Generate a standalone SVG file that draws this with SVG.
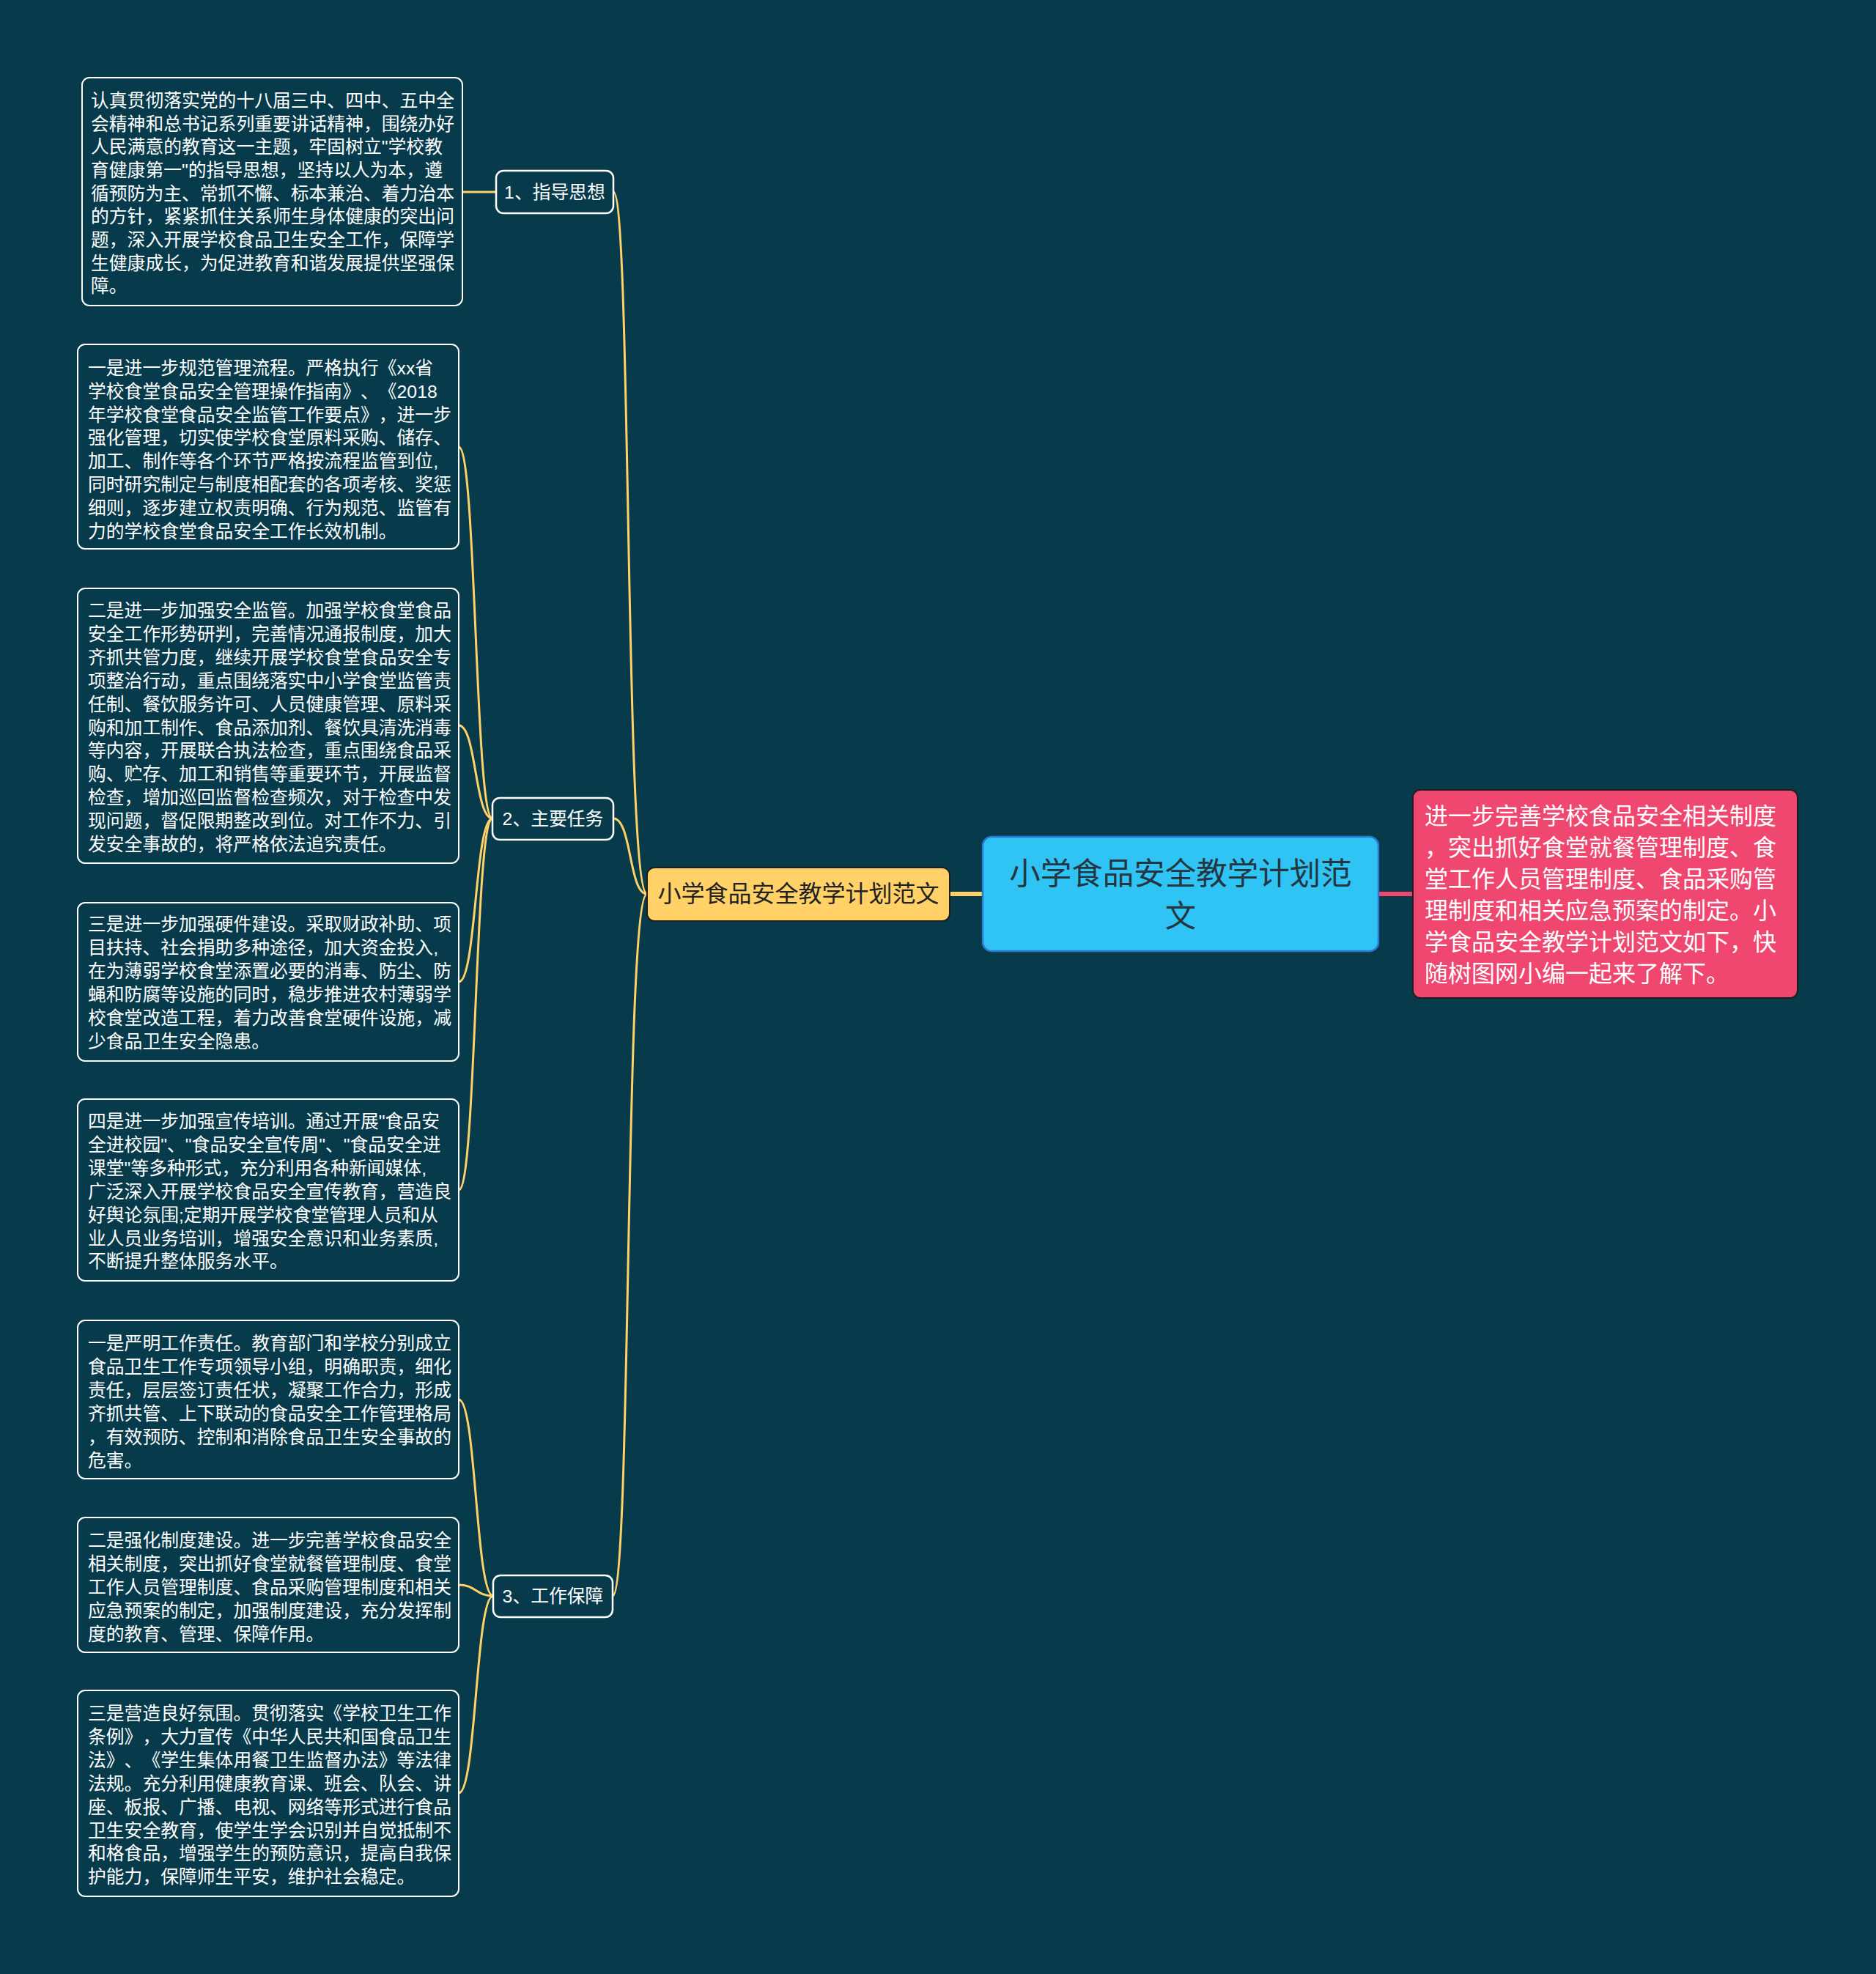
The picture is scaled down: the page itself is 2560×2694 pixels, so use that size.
<svg xmlns="http://www.w3.org/2000/svg" width="2560" height="2694" viewBox="0 0 2560 2694">
<style>
text{text-spacing-trim:space-all}
.bg{fill:#073B4C}
.leaf{fill:#073B4C;stroke:#FFFFFF;stroke-width:2}
.lt{font-family:'Liberation Sans','Noto Sans CJK SC',sans-serif;font-size:24.8px;fill:#FFFFFF}
.br{fill:#073B4C;stroke:#FFFFFF;stroke-width:2.5}
.bt{font-family:'Liberation Sans','Noto Sans CJK SC',sans-serif;font-size:24.8px;fill:#FFFFFF;text-anchor:middle}
.con{fill:none;stroke:#FFD166;stroke-width:3}
</style>
<rect class="bg" x="0" y="0" width="2560" height="2694"/>
<g id="connectors">
<path class="con" d="M631,262 L677,262"/>
<path class="con" d="M837,262 C862,262 852,1220 883,1220"/>
<path class="con" d="M837,1117 C862,1117 858,1220 883,1220"/>
<path class="con" d="M836,2178 C862,2178 852,1220 883,1220"/>
<path class="con" d="M672,1117 C648,1117 650,610 626,610"/>
<path class="con" d="M672,1117 C648,1117 650,990 626,990"/>
<path class="con" d="M672,1117 C648,1117 650,1340 626,1340"/>
<path class="con" d="M672,1117 C648,1117 650,1624 626,1624"/>
<path class="con" d="M673,2178 C649,2178 650,1910 626,1910"/>
<path class="con" d="M673,2178 C649,2178 650,2163 626,2163"/>
<path class="con" d="M673,2178 C649,2178 650,2447 626,2447"/>
<path d="M1296,1220 L1341,1220" fill="none" stroke="#FFD166" stroke-width="6"/>
<path d="M1881,1220 L1928,1220" fill="none" stroke="#EF476F" stroke-width="6"/>
</g>
<g id="root">
<rect x="1341" y="1142" width="540" height="156" rx="12" fill="#30C4F5" stroke="#2A78D2" stroke-width="2.5"/>
<text font-family="'Liberation Sans','Noto Sans CJK SC',sans-serif" font-size="42.5" fill="#243640" text-anchor="middle"><tspan x="1611" y="1207">小学食品安全教学计划范</tspan><tspan x="1611" y="1265">文</tspan></text>
</g>
<g id="summary">
<rect x="1928" y="1078" width="525" height="284" rx="10" fill="#EF476F" stroke="#1E1E1E" stroke-width="2"/>
<text font-family="'Liberation Sans','Noto Sans CJK SC',sans-serif" font-size="32" fill="#FFFFFF"><tspan x="1944" y="1125">进一步完善学校食品安全相关制度</tspan><tspan x="1944" y="1168">，突出抓好食堂就餐管理制度、食</tspan><tspan x="1944" y="1211">堂工作人员管理制度、食品采购管</tspan><tspan x="1944" y="1254">理制度和相关应急预案的制定。小</tspan><tspan x="1944" y="1297">学食品安全教学计划范文如下，快</tspan><tspan x="1944" y="1340">随树图网小编一起来了解下。</tspan></text>
</g>
<g id="main">
<rect x="883" y="1184" width="413" height="73" rx="10" fill="#FFD166" stroke="#1E1E1E" stroke-width="2"/>
<text x="1089.5" y="1231" font-family="'Liberation Sans','Noto Sans CJK SC',sans-serif" font-size="32" fill="#222222" text-anchor="middle">小学食品安全教学计划范文</text>
</g>
<g id="branch1">
<rect class="br" x="677" y="233" width="160" height="58" rx="10"/>
<text class="bt" x="757" y="271">1、指导思想</text>
</g>
<g id="branch2">
<rect class="br" x="672" y="1089" width="165" height="57" rx="10"/>
<text class="bt" x="754.5" y="1126">2、主要任务</text>
</g>
<g id="branch3">
<rect class="br" x="673" y="2150" width="163" height="57" rx="10"/>
<text class="bt" x="754.5" y="2187">3、工作保障</text>
</g>
<g id="leaf1">
<rect class="leaf" x="112" y="106" width="519" height="311" rx="10"/>
<text class="lt"><tspan x="124" y="146">认真贯彻落实党的十八届三中、四中、五中全</tspan><tspan x="124" y="177.7">会精神和总书记系列重要讲话精神，围绕办好</tspan><tspan x="124" y="209.3">人民满意的教育这一主题，牢固树立"学校教</tspan><tspan x="124" y="241">育健康第一"的指导思想，坚持以人为本，遵</tspan><tspan x="124" y="272.7">循预防为主、常抓不懈、标本兼治、着力治本</tspan><tspan x="124" y="304.3">的方针，紧紧抓住关系师生身体健康的突出问</tspan><tspan x="124" y="336">题，深入开展学校食品卫生安全工作，保障学</tspan><tspan x="124" y="367.7">生健康成长，为促进教育和谐发展提供坚强保</tspan><tspan x="124" y="399.3">障。</tspan></text>
</g>
<g id="leaf2">
<rect class="leaf" x="106" y="470" width="520" height="279" rx="10"/>
<text class="lt"><tspan x="120" y="511">一是进一步规范管理流程。严格执行《xx省</tspan><tspan x="120" y="542.8">学校食堂食品安全管理操作指南》、《2018</tspan><tspan x="120" y="574.6">年学校食堂食品安全监管工作要点》，进一步</tspan><tspan x="120" y="606.4">强化管理，切实使学校食堂原料采购、储存、</tspan><tspan x="120" y="638.2">加工、制作等各个环节严格按流程监管到位,</tspan><tspan x="120" y="670">同时研究制定与制度相配套的各项考核、奖惩</tspan><tspan x="120" y="701.8">细则，逐步建立权责明确、行为规范、监管有</tspan><tspan x="120" y="733.6">力的学校食堂食品安全工作长效机制。</tspan></text>
</g>
<g id="leaf3">
<rect class="leaf" x="106" y="803" width="520" height="375" rx="10"/>
<text class="lt"><tspan x="120" y="842">二是进一步加强安全监管。加强学校食堂食品</tspan><tspan x="120" y="873.9">安全工作形势研判，完善情况通报制度，加大</tspan><tspan x="120" y="905.8">齐抓共管力度，继续开展学校食堂食品安全专</tspan><tspan x="120" y="937.7">项整治行动，重点围绕落实中小学食堂监管责</tspan><tspan x="120" y="969.6">任制、餐饮服务许可、人员健康管理、原料采</tspan><tspan x="120" y="1001.5">购和加工制作、食品添加剂、餐饮具清洗消毒</tspan><tspan x="120" y="1033.4">等内容，开展联合执法检查，重点围绕食品采</tspan><tspan x="120" y="1065.3">购、贮存、加工和销售等重要环节，开展监督</tspan><tspan x="120" y="1097.2">检查，增加巡回监督检查频次，对于检查中发</tspan><tspan x="120" y="1129.1">现问题，督促限期整改到位。对工作不力、引</tspan><tspan x="120" y="1161">发安全事故的，将严格依法追究责任。</tspan></text>
</g>
<g id="leaf4">
<rect class="leaf" x="106" y="1232" width="520" height="216" rx="10"/>
<text class="lt"><tspan x="120" y="1270">三是进一步加强硬件建设。采取财政补助、项</tspan><tspan x="120" y="1301.9">目扶持、社会捐助多种途径，加大资金投入,</tspan><tspan x="120" y="1333.8">在为薄弱学校食堂添置必要的消毒、防尘、防</tspan><tspan x="120" y="1365.7">蝇和防腐等设施的同时，稳步推进农村薄弱学</tspan><tspan x="120" y="1397.6">校食堂改造工程，着力改善食堂硬件设施，减</tspan><tspan x="120" y="1429.5">少食品卫生安全隐患。</tspan></text>
</g>
<g id="leaf5">
<rect class="leaf" x="106" y="1500" width="520" height="248" rx="10"/>
<text class="lt"><tspan x="120" y="1539">四是进一步加强宣传培训。通过开展"食品安</tspan><tspan x="120" y="1570.9">全进校园"、"食品安全宣传周"、"食品安全进</tspan><tspan x="120" y="1602.8">课堂"等多种形式，充分利用各种新闻媒体,</tspan><tspan x="120" y="1634.7">广泛深入开展学校食品安全宣传教育，营造良</tspan><tspan x="120" y="1666.6">好舆论氛围;定期开展学校食堂管理人员和从</tspan><tspan x="120" y="1698.5">业人员业务培训，增强安全意识和业务素质,</tspan><tspan x="120" y="1730.4">不断提升整体服务水平。</tspan></text>
</g>
<g id="leaf6">
<rect class="leaf" x="106" y="1802" width="520" height="216" rx="10"/>
<text class="lt"><tspan x="120" y="1842">一是严明工作责任。教育部门和学校分别成立</tspan><tspan x="120" y="1873.9">食品卫生工作专项领导小组，明确职责，细化</tspan><tspan x="120" y="1905.8">责任，层层签订责任状，凝聚工作合力，形成</tspan><tspan x="120" y="1937.7">齐抓共管、上下联动的食品安全工作管理格局</tspan><tspan x="120" y="1969.6">，有效预防、控制和消除食品卫生安全事故的</tspan><tspan x="120" y="2001.5">危害。</tspan></text>
</g>
<g id="leaf7">
<rect class="leaf" x="106" y="2071" width="520" height="184" rx="10"/>
<text class="lt"><tspan x="120" y="2111">二是强化制度建设。进一步完善学校食品安全</tspan><tspan x="120" y="2142.9">相关制度，突出抓好食堂就餐管理制度、食堂</tspan><tspan x="120" y="2174.8">工作人员管理制度、食品采购管理制度和相关</tspan><tspan x="120" y="2206.7">应急预案的制定，加强制度建设，充分发挥制</tspan><tspan x="120" y="2238.6">度的教育、管理、保障作用。</tspan></text>
</g>
<g id="leaf8">
<rect class="leaf" x="106" y="2307" width="520" height="281" rx="10"/>
<text class="lt"><tspan x="120" y="2347">三是营造良好氛围。贯彻落实《学校卫生工作</tspan><tspan x="120" y="2378.9">条例》，大力宣传《中华人民共和国食品卫生</tspan><tspan x="120" y="2410.8">法》、《学生集体用餐卫生监督办法》等法律</tspan><tspan x="120" y="2442.7">法规。充分利用健康教育课、班会、队会、讲</tspan><tspan x="120" y="2474.6">座、板报、广播、电视、网络等形式进行食品</tspan><tspan x="120" y="2506.5">卫生安全教育，使学生学会识别并自觉抵制不</tspan><tspan x="120" y="2538.4">和格食品，增强学生的预防意识，提高自我保</tspan><tspan x="120" y="2570.3">护能力，保障师生平安，维护社会稳定。</tspan></text>
</g>
</svg>
